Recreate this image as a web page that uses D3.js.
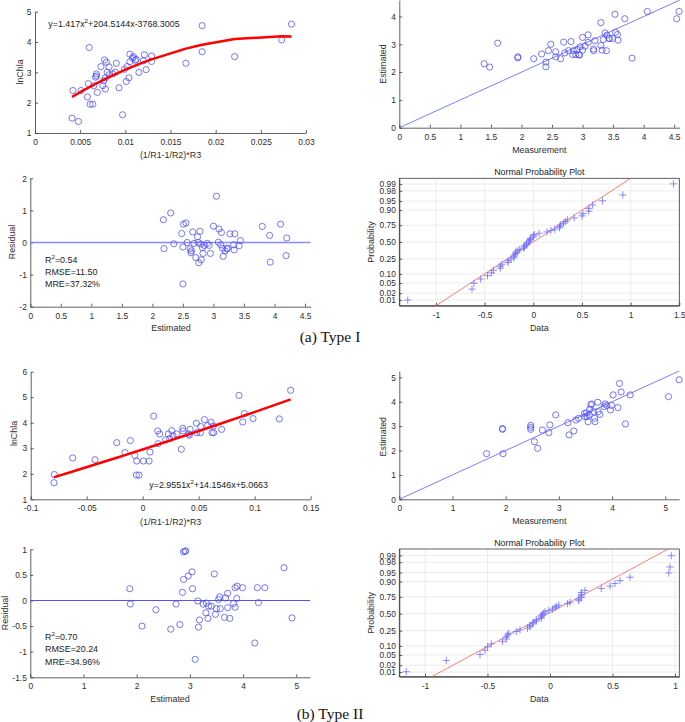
<!DOCTYPE html>
<html><head><meta charset="utf-8">
<script src="https://cdn.jsdelivr.net/npm/d3@7"></script>
<style>
body{margin:0;background:#fff}
svg{display:block}
text{font-family:"Liberation Sans",Arial,Helvetica,sans-serif}
text.cap{font-family:"Liberation Serif","Times New Roman",serif}
</style>
</head><body>
<svg id="c" width="685" height="722"></svg>
<script>
// ===== Type I data =====
const idxA = [0.0042,0.0041,0.0048,0.0051,0.0058,0.0060,0.0059,0.0061,0.0064,0.0065,0.0068,0.0068,0.0067,0.0069,0.0073,0.0075,0.0076,0.0077,0.0078,0.0079,0.0078,0.0080,0.0082,0.0082,0.0086,0.0089,0.0090,0.0093,0.0097,0.0099,0.0101,0.0102,0.0104,0.0105,0.0105,0.0108,0.0109,0.0111,0.0112,0.0115,0.0120,0.0121,0.0123,0.0129,0.0129,0.0167,0.0185,0.0185,0.0221,0.0273,0.0284];
const lnChlaA = [2.40,1.49,1.38,2.40,2.19,3.82,2.63,1.95,1.95,2.56,2.95,2.88,2.84,2.34,3.19,2.56,2.72,3.41,2.45,3.33,2.82,3.00,3.18,2.92,2.95,3.00,3.30,2.49,1.60,3.10,2.70,3.19,2.82,3.60,3.35,3.47,3.52,3.40,3.43,3.00,3.38,3.58,3.09,3.36,3.54,3.30,4.54,3.68,3.52,4.07,4.59];
const fitCoefA = [-3768.3005, 204.5144, 1.417]; // x^2, x, const
const measA = [1.39,1.48,1.61,1.94,1.94,2.20,2.33,2.40,2.40,2.44,2.48,2.56,2.56,2.64,2.69,2.71,2.77,2.81,2.84,2.85,2.89,2.91,2.94,2.95,2.96,3.00,3.00,3.04,3.09,3.09,3.18,3.18,3.20,3.30,3.30,3.32,3.34,3.37,3.39,3.40,3.43,3.44,3.49,3.54,3.53,3.57,3.58,3.69,3.81,4.06,4.54,4.58];
const estVsMeasA = [2.30,2.18,3.04,2.55,2.51,2.48,2.65,2.36,2.19,2.77,3.00,2.73,2.55,2.48,3.08,2.69,2.77,3.10,2.63,2.77,2.63,2.81,2.63,2.61,2.91,3.25,2.79,2.93,3.07,3.34,2.77,2.83,3.13,3.78,2.96,2.79,3.17,3.41,2.77,3.33,3.21,3.21,3.21,3.43,4.08,3.35,3.15,3.92,2.50,4.18,3.92,4.18];
const estA = [2.18,2.19,2.30,2.35,2.48,2.50,2.50,2.51,2.55,2.57,2.62,2.63,2.64,2.66,2.68,2.71,2.74,2.75,2.76,2.78,2.79,2.80,2.82,2.83,2.85,2.90,2.93,2.95,3.00,3.05,3.08,3.09,3.12,3.13,3.15,3.16,3.19,3.22,3.23,3.27,3.33,3.34,3.35,3.42,3.44,3.80,3.92,3.93,4.10,4.19,4.20];
const residA = [0.71,-0.19,0.92,-0.04,0.28,-0.14,-1.29,0.57,0.61,0.00,-0.20,-0.32,-0.26,0.33,-0.03,-0.47,0.18,0.00,-0.63,0.35,-0.05,-0.54,-0.16,-0.34,-0.09,-0.03,-0.09,-0.34,0.51,1.44,0.01,0.42,-0.07,0.31,-0.18,-0.43,-0.26,-0.20,-0.18,0.27,-0.07,-0.23,0.27,-0.10,0.06,0.50,0.22,-0.61,0.57,-0.41,0.14];
const refLineA = [0.0, 0.391]; // mu, sigma of the normal reference line
const statsA = ["0.54", "RMSE=11.50", "MRE=37.32%"];

// ===== Type II data =====
const idxB = [-0.0792,-0.0789,-0.0625,-0.0426,-0.0232,-0.0158,-0.0110,-0.0071,-0.0054,-0.0057,-0.0033,0.0006,0.0057,0.0065,0.0098,0.0134,0.0137,0.0152,0.0205,0.0229,0.0241,0.0259,0.0271,0.0304,0.0345,0.0357,0.0360,0.0411,0.0417,0.0423,0.0479,0.0482,0.0515,0.0518,0.0551,0.0580,0.0610,0.0619,0.0631,0.0634,0.0705,0.0860,0.0893,0.0908,0.0985,0.1220,0.1321];
const lnChlaB = [1.65,1.97,2.62,2.55,3.22,2.83,3.30,2.72,2.50,1.95,1.95,2.50,2.50,2.85,4.26,3.68,3.18,3.56,3.34,3.56,3.38,3.69,3.49,3.56,2.96,3.78,3.68,3.56,3.51,3.74,3.98,3.61,3.61,3.85,4.12,3.89,4.02,3.61,3.87,3.61,3.74,5.07,4.03,4.36,4.16,4.15,5.27];
const fitCoefB = [5.0663, 14.1546, 2.9551]; // x^2, x, const
const measB = [1.64,1.94,1.94,1.95,2.47,2.47,2.47,2.54,2.60,2.69,2.81,2.83,2.94,3.17,3.19,3.28,3.32,3.37,3.48,3.49,3.52,3.53,3.55,3.57,3.58,3.60,3.62,3.65,3.67,3.68,3.73,3.74,3.77,3.85,3.87,3.90,3.97,3.99,4.02,4.11,4.14,4.17,4.25,4.34,5.06,5.26];
const estVsMeasB = [1.87,2.90,2.87,1.87,3.03,2.95,2.87,2.36,2.09,2.84,2.73,3.05,3.46,3.14,2.64,2.80,3.25,3.32,3.52,3.39,3.55,3.39,3.18,3.46,3.70,3.87,3.91,3.59,3.32,3.18,3.98,3.59,3.48,3.80,3.91,3.85,3.66,3.85,4.28,3.76,4.75,4.40,3.09,4.28,4.21,4.90];
const estB = [1.87,1.88,2.10,2.36,2.64,2.74,2.81,2.86,2.88,2.88,2.91,2.92,2.97,3.04,3.05,3.10,3.15,3.16,3.18,3.25,3.30,3.31,3.35,3.34,3.40,3.46,3.48,3.50,3.54,3.56,3.57,3.65,3.67,3.71,3.71,3.75,3.82,3.85,3.85,3.89,3.88,3.99,4.22,4.27,4.29,4.41,4.77,4.92];
const residB = [0.23,-0.07,-0.50,-0.18,-0.56,-0.07,-0.47,0.16,0.41,0.95,0.96,0.97,0.48,0.56,0.23,-1.15,-0.01,-0.52,-0.38,-0.07,-0.24,-0.05,-0.11,-0.35,-0.11,0.52,-0.27,-0.16,0.02,0.07,-0.16,-0.33,0.05,0.14,-0.14,-0.35,-0.06,0.25,-0.13,0.28,0.04,0.25,-0.83,0.25,-0.04,0.25,0.64,-0.34];
const refLineB = [-0.014, 0.372];
const statsB = ["0.70", "RMSE=20.24", "MRE=34.96%"];

// ===== tick labels =====
const probTicks = [0.01,0.02,0.05,0.10,0.25,0.50,0.75,0.90,0.95,0.98,0.99];
const probTickLabels = ["0.01","0.02","0.05","0.10","0.25","0.50","0.75","0.90","0.95","0.98","0.99"];
const ticksIdxA = [0,0.005,0.01,0.015,0.02,0.025,0.03];
const ticksIdxB = [-0.1,-0.05,0,0.05,0.1,0.15];
const ticksHalfA = [0,0.5,1,1.5,2,2.5,3,3.5,4,4.5];
const ticksIntB = [0,1,2,3,4,5];
const ticksResA = [-2,-1,0,1,2];
const ticksResB = [-1.5,-1,-0.5,0,0.5,1];
const ticksNormA = [-1,-0.5,0,0.5,1,1.5];
const ticksNormB = [-1,-0.5,0,0.5,1];

// ===== helpers =====
function norminv(p){
  const a=[-3.969683028665376e+01,2.209460984245205e+02,-2.759285104469687e+02,1.383577518672690e+02,-3.066479806614716e+01,2.506628277459239e+00];
  const b=[-5.447609879822406e+01,1.615858368580409e+02,-1.556989798598866e+02,6.680131188771972e+01,-1.328068155288572e+01];
  const c=[-7.784894002430293e-03,-3.223964580411365e-01,-2.400758277161838e+00,-2.549732539343734e+00,4.374664141464968e+00,2.938163982698783e+00];
  const d=[7.784695709041462e-03,3.224671290700398e-01,2.445134137142996e+00,3.754408661907416e+00];
  const pl=0.02425, ph=1-pl; let q,r;
  if(p<pl){q=Math.sqrt(-2*Math.log(p));return (((((c[0]*q+c[1])*q+c[2])*q+c[3])*q+c[4])*q+c[5])/((((d[0]*q+d[1])*q+d[2])*q+d[3])*q+1);}
  if(p<=ph){q=p-0.5;r=q*q;return (((((a[0]*r+a[1])*r+a[2])*r+a[3])*r+a[4])*r+a[5])*q/(((((b[0]*r+b[1])*r+b[2])*r+b[3])*r+b[4])*r+1);}
  q=Math.sqrt(-2*Math.log(1-p));return -(((((c[0]*q+c[1])*q+c[2])*q+c[3])*q+c[4])*q+c[5])/((((d[0]*q+d[1])*q+d[2])*q+d[3])*q+1);
}
const svg = d3.select("#c");
const AX = "#3a3a3a", TXT = "#2e2e2e", TFS = 8.4, LFS = 8.9;
const BLUE = "#4a4aff";
const fmt = d => String(d);

function styleAxis(g){
  g.attr("font-size", TFS).attr("font-family", null);
  g.selectAll("path.domain").attr("stroke", AX).attr("stroke-width", 0.8);
  g.selectAll(".tick line").attr("stroke", AX).attr("stroke-width", 0.8);
  g.selectAll(".tick text").attr("fill", TXT);
}
function axes(x, y, xt, yt, xf, yf){
  const [L] = x.range(), [B] = y.range();
  svg.append("g").attr("transform", `translate(0,${B})`)
    .call(d3.axisBottom(x).tickValues(xt).tickFormat(xf||fmt).tickSizeInner(-3).tickSizeOuter(0).tickPadding(6.2))
    .call(styleAxis);
  svg.append("g").attr("transform", `translate(${L},0)`)
    .call(d3.axisLeft(y).tickValues(yt).tickFormat(yf||fmt).tickSizeInner(-3).tickSizeOuter(0).tickPadding(3.5))
    .call(styleAxis);
}
function xLabel(txt, cx, cy){
  svg.append("text").attr("x", cx).attr("y", cy).attr("dy", "0.35em").attr("text-anchor","middle")
    .attr("font-size", LFS).attr("fill", TXT).text(txt);
}
function yLabel(txt, cx, cy){
  svg.append("text").attr("transform", `translate(${cx},${cy}) rotate(-90)`).attr("dy","0.35em")
    .attr("text-anchor","middle").attr("font-size", LFS).attr("fill", TXT).text(txt);
}
function circles(x, y, xs, ys){
  svg.append("g").selectAll("circle").data(d3.zip(xs, ys)).join("circle")
    .attr("cx", d => x(d[0])).attr("cy", d => y(d[1])).attr("r", 3.1)
    .attr("fill","none").attr("stroke", BLUE).attr("stroke-width", 0.75);
}
function supText(x0, yb, pre, sup, post){
  const t = svg.append("text").attr("x", x0).attr("y", yb).attr("font-size", LFS).attr("fill", "#1a1a1a");
  t.append("tspan").text(pre);
  t.append("tspan").attr("dy", -3.6).attr("font-size", 6.2).text(sup);
  t.append("tspan").attr("dy", 3.6).text(post);
}

// ---------- Fit panel ----------
function fitPanel(cfg){
  const x = d3.scaleLinear().domain(cfg.xd).range(cfg.xr);
  const y = d3.scaleLinear().domain(cfg.yd).range(cfg.yr);
  axes(x, y, cfg.xt, cfg.yt);
  circles(x, y, cfg.xs, cfg.ys);
  const xsSorted = Array.from(new Set(cfg.xs)).sort(d3.ascending);
  const poly = v => cfg.coef[0]*v*v + cfg.coef[1]*v + cfg.coef[2];
  svg.append("path").datum(xsSorted)
    .attr("d", d3.line().x(v => x(v)).y(v => y(poly(v))))
    .attr("fill","none").attr("stroke","#ff0000").attr("stroke-width",2.5).attr("stroke-linejoin","round");
  xLabel("(1/R1-1/R2)*R3", cfg.xl[0], cfg.xl[1]);
  yLabel("lnChla", cfg.yl[0], cfg.yl[1]);
  supText(cfg.eq[0], cfg.eq[1], cfg.eqText[0], "2", cfg.eqText[1]);
}
// ---------- 1:1 panel ----------
function scatterPanel(cfg){
  const x = d3.scaleLinear().domain(cfg.d).range(cfg.xr);
  const y = d3.scaleLinear().domain(cfg.d).range(cfg.yr);
  axes(x, y, cfg.xt, cfg.yt);
  svg.append("line").attr("x1", x(cfg.d[0])).attr("y1", y(cfg.d[0])).attr("x2", x(cfg.d[1])).attr("y2", y(cfg.d[1]))
    .attr("stroke", "#5c5cff").attr("stroke-width", 0.8);
  circles(x, y, cfg.xs, cfg.ys);
  xLabel("Measurement", cfg.xl[0], cfg.xl[1]);
  yLabel("Estimated", cfg.yl[0], cfg.yl[1]);
}
// ---------- residual panel ----------
function residPanel(cfg){
  const x = d3.scaleLinear().domain(cfg.xd).range(cfg.xr);
  const y = d3.scaleLinear().domain(cfg.yd).range(cfg.yr);
  axes(x, y, cfg.xt, cfg.yt);
  svg.append("line").attr("x1", x(cfg.xd[0])).attr("x2", x(cfg.xd[1])).attr("y1", y(0)).attr("y2", y(0))
    .attr("stroke", cfg.zc).attr("stroke-width", cfg.zw);
  circles(x, y, cfg.xs, cfg.ys);
  xLabel("Estimated", cfg.xl[0], cfg.xl[1]);
  yLabel("Residual", cfg.yl[0], cfg.yl[1]);
  const [sx, s0] = cfg.st;
  supText(sx, s0, "R", "2", "=" + cfg.stats[0]);
  svg.append("text").attr("x", sx).attr("y", s0 + cfg.sg).attr("font-size", LFS).attr("fill","#1a1a1a").text(cfg.stats[1]);
  svg.append("text").attr("x", sx).attr("y", s0 + 2*cfg.sg).attr("font-size", LFS).attr("fill","#1a1a1a").text(cfg.stats[2]);
}
// ---------- normal probability panel ----------
function normPanel(cfg){
  const x = d3.scaleLinear().domain(cfg.xd).range(cfg.xr);
  const y = d3.scaleLinear().domain(cfg.zd).range(cfg.yr);
  const [L,R] = cfg.xr, [B,T] = cfg.yr;
  const zt = probTicks.map(norminv);
  const grid = svg.append("g").attr("stroke","#e4e4e4").attr("stroke-width",0.7);
  cfg.xt.forEach(v => grid.append("line").attr("x1",x(v)).attr("x2",x(v)).attr("y1",B).attr("y2",T));
  zt.forEach(v => grid.append("line").attr("y1",y(v)).attr("y2",y(v)).attr("x1",L).attr("x2",R));
  svg.append("g").attr("transform", `translate(0,${B})`)
    .call(d3.axisBottom(x).tickValues(cfg.xt).tickFormat(fmt).tickSizeInner(-3).tickSizeOuter(0).tickPadding(6.2))
    .call(styleAxis);
  svg.append("g").attr("transform", `translate(${L},0)`)
    .call(d3.axisLeft(y).tickValues(zt).tickFormat((d,i)=>probTickLabels[i]).tickSizeInner(-3).tickSizeOuter(0).tickPadding(3.5))
    .call(styleAxis);
  svg.append("rect").attr("x",L).attr("y",T).attr("width",R-L).attr("height",B-T)
    .attr("fill","none").attr("stroke",AX).attr("stroke-width",0.8);
  // reference line
  const [mu, sg] = cfg.ref;
  svg.append("line").attr("x1", x(mu + sg*cfg.zd[0])).attr("y1", y(cfg.zd[0]))
    .attr("x2", x(mu + sg*cfg.zd[1])).attr("y2", y(cfg.zd[1]))
    .attr("stroke","#ff5a5a").attr("stroke-width",0.8);
  // data (sorted residuals vs normal plotting positions)
  const sorted = cfg.data.slice().sort(d3.ascending);
  const n = sorted.length;
  svg.append("g").selectAll("path").data(sorted).join("path")
    .attr("transform", (d,i) => `translate(${x(d)},${y(norminv((i+0.5)/n))})`)
    .attr("d","M-3.6,0H3.6M0,-3.6V3.6")
    .attr("stroke","#6f6fff").attr("stroke-width",0.8).attr("fill","none");
  svg.append("text").attr("x",(L+R)/2).attr("y",cfg.title).attr("dy","0.35em").attr("text-anchor","middle")
    .attr("font-size",LFS).attr("fill","#1a1a1a").text("Normal Probability Plot");
  xLabel("Data", (L+R)/2, cfg.xl);
  yLabel("Probability", 370.7, (B+T)/2);
}

// ================= (a) Type I =================
fitPanel({xd:[0,0.03], xr:[35,306], yd:[1,5], yr:[133,11.7], xt:ticksIdxA, yt:[1,2,3,4,5],
  xs:idxA, ys:lnChlaA, coef:fitCoefA, xl:[170.5,155], yl:[20,72],
  eq:[48.3,27], eqText:["y=1.417x","+204.5144x-3768.3005"]});
scatterPanel({d:[0,4.59], xr:[399.3,679.7], yr:[127.7,0.1], xt:ticksHalfA, yt:[0,1,2,3,4],
  xs:measA, ys:estVsMeasA, xl:[539.3,150], yl:[382.7,64]});
residPanel({xd:[0,4.59], xr:[30.3,310.5], yd:[-2,2], yr:[306.7,178.3], xt:ticksHalfA, yt:ticksResA,
  xs:estA, ys:residA, zc:"#8a8aff", zw:1.5, xl:[171,327.7], yl:[11.7,242],
  st:[45,263], sg:12, stats:statsA});
normPanel({xd:[-1.377,1.5], xr:[399.3,679.3], zd:[-2.558,2.558], yr:[305.7,178.3], xt:ticksNormA,
  ref:refLineA, data:residA, title:172.3, xl:327.7});

// ================= (b) Type II =================
fitPanel({xd:[-0.1,0.15], xr:[30.7,310.7], yd:[1,6], yr:[499.3,371.7], xt:ticksIdxB, yt:[1,2,3,4,5,6],
  xs:idxB, ys:lnChlaB, coef:fitCoefB, xl:[170.7,521.7], yl:[14,433.5],
  eq:[149.3,488], eqText:["y=2.9551x","+14.1546x+5.0663"]});
scatterPanel({d:[0,5.26], xr:[399.3,679.1], yr:[499.3,371], xt:ticksIntB, yt:ticksIntB,
  xs:measB, ys:estVsMeasB, xl:[539.3,521], yl:[382.7,436.7]});
residPanel({xd:[0,5.26], xr:[30.3,310.1], yd:[-1.5,1], yr:[677.3,549.3], xt:ticksIntB, yt:ticksResB,
  xs:estB, ys:residB, zc:"#5252ff", zw:1.0, xl:[170,699], yl:[5,613],
  st:[45,639.7], sg:12.5, stats:statsB});
normPanel({xd:[-1.2056,1.0344], xr:[399.3,679.3], zd:[-2.51,2.58], yr:[676.7,549], xt:ticksNormB,
  ref:refLineB, data:residB, title:543.3, xl:699.3});

// captions
svg.append("text").attr("class","cap").attr("x",330).attr("y",342).attr("text-anchor","middle")
  .style("font-size","15.5px").attr("fill","#111").text("(a) Type I");
svg.append("text").attr("class","cap").attr("x",330).attr("y",719).attr("text-anchor","middle")
  .style("font-size","15.5px").attr("fill","#111").text("(b) Type II");
</script>
</body></html>
